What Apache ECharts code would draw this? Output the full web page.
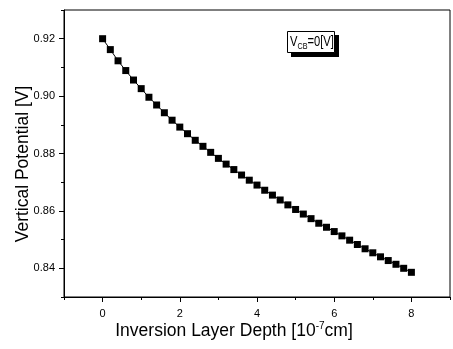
<!DOCTYPE html>
<html><head><meta charset="utf-8">
<script src="https://cdn.jsdelivr.net/npm/echarts@6/dist/echarts.min.js"></script>
<style>html,body{margin:0;padding:0;background:#fff}#c{width:453px;height:349px}</style>
</head><body><div id="c"></div>
<script>
const depth = [0,0.2,0.4,0.6,0.8,1.0,1.2,1.4,1.6,1.8,2.0,2.2,2.4,2.6,2.8,3.0,3.2,3.4,3.6,3.8,4.0,4.2,4.4,4.6,4.8,5.0,5.2,5.4,5.6,5.8,6.0,6.2,6.4,6.6,6.8,7.0,7.2,7.4,7.6,7.8,8.0];
const potential = [0.9200,0.9162,0.9123,0.9089,0.9056,0.9026,0.8996,0.8969,0.8942,0.8916,0.8892,0.8869,0.8846,0.8825,0.8804,0.8783,0.8763,0.8744,0.8725,0.8707,0.8690,0.8672,0.8655,0.8638,0.8621,0.8605,0.8589,0.8573,0.8557,0.8543,0.8528,0.8513,0.8498,0.8483,0.8468,0.8454,0.8440,0.8427,0.8414,0.8400,0.8386];
const xLabels = [0,2,4,6,8];
const yLabels = ['0.84','0.86','0.88','0.90','0.92'];
const yMajor = [0.84,0.86,0.88,0.90,0.92];
const xTitle = ['Inversion Layer Depth [10', '-7', 'cm]'];
const yTitle = 'Vertical Potential [V]';
const legendParts = ['V', 'CB', '=0[V]'];

const chart = echarts.init(document.getElementById('c'));
const font = 'Liberation Sans, Arial, sans-serif';
const line = {show: true, onZero: false, lineStyle: {color: '#000', width: 1}};
chart.setOption({
  animation: false,
  backgroundColor: '#fff',
  grid: {left: 64, top: 10, right: 3, bottom: 52, show: true, borderColor: '#000', borderWidth: 1},
  xAxis: [{
    type: 'value', min: -1, max: 9, interval: 1,
    axisLine: line,
    axisTick: {show: true, inside: false, length: 3, lineStyle: {color: '#000'}},
    splitLine: {show: false},
    axisLabel: {color: '#000', fontFamily: font, fontSize: 11, margin: 11,
      formatter: v => xLabels.includes(Math.round(v)) && Math.abs(v - Math.round(v)) < 1e-6 ? String(Math.round(v)) : ''}
  }, {
    type: 'value', min: -1, max: 9, position: 'bottom', offset: 0,
    axisLine: {show: false, onZero: false},
    axisTick: {show: true, inside: false, length: 5, customValues: xLabels, lineStyle: {color: '#000'}},
    axisLabel: {show: false}, splitLine: {show: false}
  }],
  yAxis: [{
    type: 'value', min: 0.83, max: 0.93, interval: 0.01,
    axisLine: line,
    axisTick: {show: true, inside: false, length: 3, lineStyle: {color: '#000'}},
    splitLine: {show: false},
    axisLabel: {color: '#000', fontFamily: font, fontSize: 11, margin: 9,
      formatter: v => { const s = v.toFixed(2); return yLabels.includes(s) ? s : ''; }}
  }, {
    type: 'value', min: 0.83, max: 0.93, position: 'left', offset: 0,
    axisLine: {show: false, onZero: false},
    axisTick: {show: true, inside: false, length: 5, customValues: yMajor, lineStyle: {color: '#000'}},
    axisLabel: {show: false}, splitLine: {show: false}
  }],
  series: [{
    type: 'line',
    data: depth.map((d, i) => [d, potential[i]]),
    symbol: 'rect', symbolSize: 7,
    lineStyle: {color: '#000', width: 1},
    itemStyle: {color: '#000', borderWidth: 0}
  }],
  graphic: [
    {type: 'text', x: 234, y: 331, style: {
      text: '{a|' + xTitle[0] + '}{s|' + xTitle[1] + '}{a|' + xTitle[2] + '}',
      align: 'center', verticalAlign: 'middle',
      rich: {
        a: {fontFamily: font, fontSize: 17.5, fill: '#000'},
        s: {fontFamily: font, fontSize: 10, fill: '#000', padding: [0,0,9,0]}
      }
    }},
    {type: 'text', x: 23, y: 164, rotation: Math.PI / 2, style: {
      text: yTitle, align: 'center', verticalAlign: 'middle',
      fontFamily: font, fontSize: 17.5, fill: '#000'
    }},
    {type: 'rect', shape: {x: 291, y: 35, width: 48, height: 22}, style: {fill: '#000'}},
    {type: 'rect', shape: {x: 287.5, y: 31.5, width: 47, height: 21}, style: {fill: '#fff', stroke: '#000', lineWidth: 1}},
    {type: 'text', x: 290, y: 42, scaleX: 0.8, style: {
      text: '{v|' + legendParts[0] + '}{s|' + legendParts[1] + '}{v|' + legendParts[2] + '}',
      verticalAlign: 'middle',
      rich: {
        v: {fontFamily: font, fontSize: 14, fill: '#000'},
        s: {fontFamily: font, fontSize: 9, fill: '#000', padding: [10,0,0,0]}
      }
    }}
  ]
});
</script></body></html>
